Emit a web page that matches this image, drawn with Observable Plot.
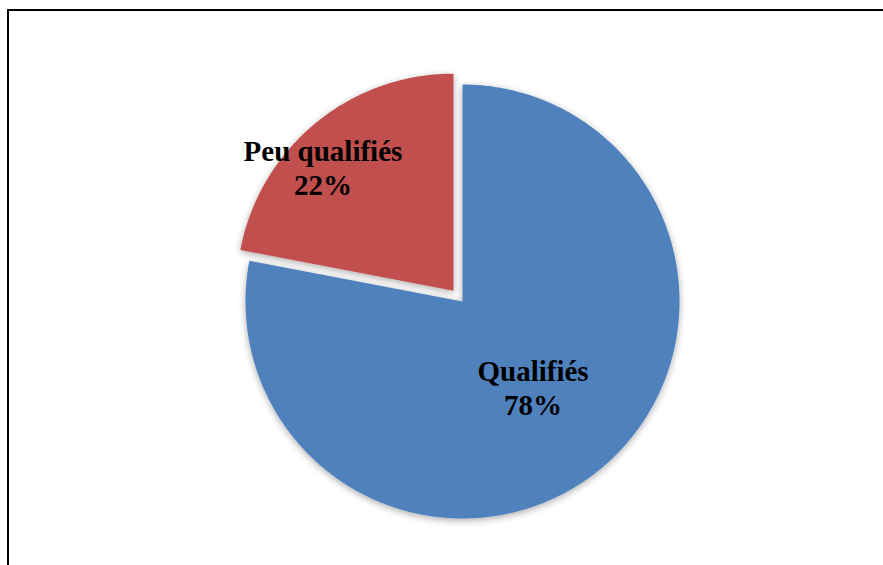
<!DOCTYPE html>
<html>
<head>
<meta charset="utf-8">
<script src="https://cdn.jsdelivr.net/npm/d3@7"></script>
<script src="https://cdn.jsdelivr.net/npm/@observablehq/plot@0.6"></script>
<style>
  html, body { margin: 0; padding: 0; background: #fff; }
  body { width: 883px; height: 565px; overflow: hidden; position: relative; }
  #frame { position: absolute; left: 7px; top: 9px; width: 1000px; height: 1000px;
           border-left: 2px solid #000; border-top: 2px solid #000; box-sizing: border-box; }
  #chart { position: absolute; left: 0; top: 0; }
</style>
</head>
<body>
<div id="frame"></div>
<div id="chart"></div>
<script>
// Data
const categories = ["Qualifiés", "Peu qualifiés"];
const values = [78, 22];
const colors = ["#4F81BD", "#C0504D"];
const exploded = [false, true];

// Layout
const W = 883, H = 565;
const cx = 462, cy = 301, R = 217;
const explodeOffset = 0.065;   // in radius units
const labelRadius = 0.51;
const labelNudge = { "Qualifiés": [0, 0], "Peu qualifiés": [-60, -38] };

// Pie angles: start at 12 o'clock, clockwise
const pie = d3.pie().sort(null).value(d => d.value).startAngle(0).endAngle(2 * Math.PI);
const slicesData = categories.map((c, i) => ({ name: c, value: values[i], color: colors[i], exploded: exploded[i] }));
const arcs = pie(slicesData);
const total = d3.sum(values);

const polys = [];
const labels = [];
arcs.forEach(a => {
  const d = a.data;
  const mid = (a.startAngle + a.endAngle) / 2;
  const ox = d.exploded ? explodeOffset * Math.sin(mid) : 0;
  const oy = d.exploded ? explodeOffset * Math.cos(mid) : 0;
  polys.push({ name: d.name, color: d.color, x: ox, y: oy });
  const n = Math.max(2, Math.ceil((a.endAngle - a.startAngle) / (Math.PI / 360)));
  for (let k = 0; k <= n; k++) {
    const t = a.startAngle + (a.endAngle - a.startAngle) * k / n;
    polys.push({ name: d.name, color: d.color, x: ox + Math.sin(t), y: oy + Math.cos(t) });
  }
  polys.push({ name: d.name, color: d.color, x: ox, y: oy });
  labels.push({
    name: d.name,
    text: d.name + "\n" + Math.round(d.value / total * 100) + "%",
    x: ox + labelRadius * Math.sin(mid),
    y: oy + labelRadius * Math.cos(mid)
  });
});

const textMarks = labels.map(l => Plot.text([l], {
  x: "x", y: "y", text: "text",
  dx: labelNudge[l.name][0], dy: labelNudge[l.name][1],
  fontFamily: "Liberation Serif, Times New Roman, serif",
  fontWeight: "bold", fontSize: 29, lineHeight: 34 / 29,
  fill: "#000", textAnchor: "middle", lineAnchor: "middle"
}));

const plot = Plot.plot({
  width: W, height: H,
  marginTop: 0, marginRight: 0, marginBottom: 0, marginLeft: 0,
  x: { domain: [-1, 1], range: [cx - R, cx + R], axis: null },
  y: { domain: [-1, 1], range: [cy + R, cy - R], axis: null },
  style: { background: "transparent", overflow: "visible" },
  marks: [
    Plot.line(polys, { x: "x", y: "y", z: "name", fill: "color", stroke: "none", curve: "linear" }),
    ...textMarks
  ]
});

// soft drop shadow for slices
const svgNS = "http://www.w3.org/2000/svg";
const defs = document.createElementNS(svgNS, "defs");
defs.innerHTML = '<filter id="pieShadow" x="-20%" y="-20%" width="140%" height="140%">' +
  '<feDropShadow dx="0" dy="2" stdDeviation="3.5" flood-color="#000" flood-opacity="0.33"/></filter>';
plot.insertBefore(defs, plot.firstChild);
const lineG = plot.querySelector("g[aria-label='line']");
if (lineG) lineG.querySelectorAll("path").forEach(p => p.setAttribute("filter", "url(#pieShadow)"));

document.getElementById("chart").appendChild(plot);
</script>
</body>
</html>
